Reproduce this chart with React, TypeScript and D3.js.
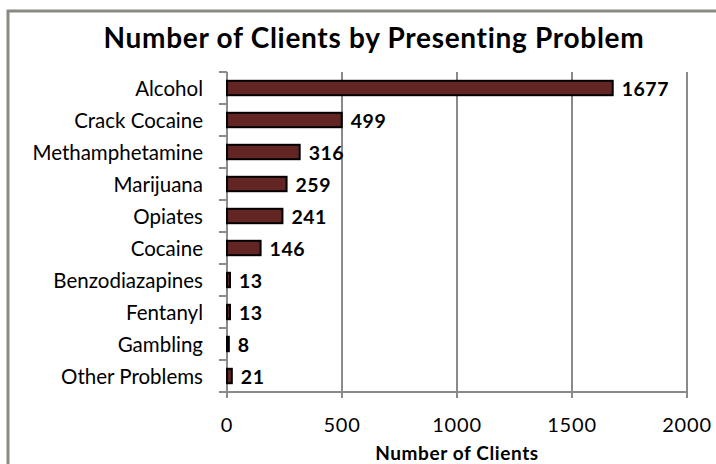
import React from "react";
import * as d3 from "d3";

const categories = [
  "Alcohol",
  "Crack Cocaine",
  "Methamphetamine",
  "Marijuana",
  "Opiates",
  "Cocaine",
  "Benzodiazapines",
  "Fentanyl",
  "Gambling",
  "Other Problems",
];
const clients = [1677, 499, 316, 259, 241, 146, 13, 13, 8, 21];
const xTicks = [0, 500, 1000, 1500, 2000];

const W = 716;
const H = 464;
const plot = { left: 227, right: 687, top: 72, bottom: 392 };
const font = "Lato, 'Open Sans', sans-serif";
const gridColor = "#8a8a8a";

export default function App() {
  const x = d3.scaleLinear().domain([0, 2000]).range([plot.left, plot.right]);
  const y = d3
    .scaleBand<string>()
    .domain(categories)
    .range([plot.top, plot.bottom])
    .paddingInner(0.55)
    .paddingOuter(0.275);
  const step = (plot.bottom - plot.top) / categories.length;

  return (
    <svg
      width={W}
      height={H}
      style={{ position: "absolute", left: 0, top: 0, background: "#fff" }}
    >
      <rect x={8} y={11} width={W + 20} height={H + 20} fill="#fff" stroke="#878b82" strokeWidth={3} />
      <text
        x={374}
        y={48}
        textAnchor="middle"
        fontFamily={font}
        fontWeight="bold"
        fontSize={28}
        letterSpacing={0.7}
        fill="#000"
      >
        Number of Clients by Presenting Problem
      </text>

      {/* vertical gridlines */}
      {xTicks.slice(1).map((t) => (
        <line key={t} x1={x(t)} x2={x(t)} y1={plot.top} y2={plot.bottom + 6} stroke={gridColor} strokeWidth={2} />
      ))}
      {/* bottom axis */}
      <line x1={plot.left} x2={plot.right} y1={plot.bottom} y2={plot.bottom} stroke={gridColor} strokeWidth={2} />
      <line x1={plot.left} x2={plot.left} y1={plot.bottom} y2={plot.bottom + 6} stroke={gridColor} strokeWidth={2} />
      {xTicks.map((t) => (
        <text key={t} x={x(t)} y={432} textAnchor="middle" fontFamily={font} fontSize={20} letterSpacing={0.8} fill="#000">
          {t}
        </text>
      ))}
      <text
        x={x(1000)}
        y={460}
        textAnchor="middle"
        fontFamily={font}
        fontWeight="bold"
        fontSize={19}
        letterSpacing={0.6}
        fill="#000"
      >
        Number of Clients
      </text>

      {/* category axis */}
      <line x1={plot.left} x2={plot.left} y1={plot.top} y2={plot.bottom} stroke={gridColor} strokeWidth={2} />
      {d3.range(categories.length + 1).map((i) => (
        <line
          key={i}
          x1={plot.left - 8}
          x2={plot.left}
          y1={plot.top + i * step}
          y2={plot.top + i * step}
          stroke={gridColor}
          strokeWidth={2}
        />
      ))}

      {categories.map((c, i) => {
        const by = y(c)!;
        const bh = y.bandwidth();
        const cy = by + bh / 2;
        return (
          <g key={c}>
            <text x={203} y={cy + 7.5} textAnchor="end" fontFamily={font} fontSize={20.5} fill="#000">
              {c}
            </text>
            <rect
              x={x(0)}
              y={by}
              width={Math.max(x(clients[i]) - x(0), 1.5)}
              height={bh}
              fill="#632523"
              stroke="#000"
              strokeWidth={2}
            />
            <text
              x={x(clients[i]) + 9}
              y={cy + 7.5}
              fontFamily={font}
              fontWeight="bold"
              fontSize={19.5}
              letterSpacing={0.5}
              fill="#000"
            >
              {clients[i]}
            </text>
          </g>
        );
      })}
    </svg>
  );
}
